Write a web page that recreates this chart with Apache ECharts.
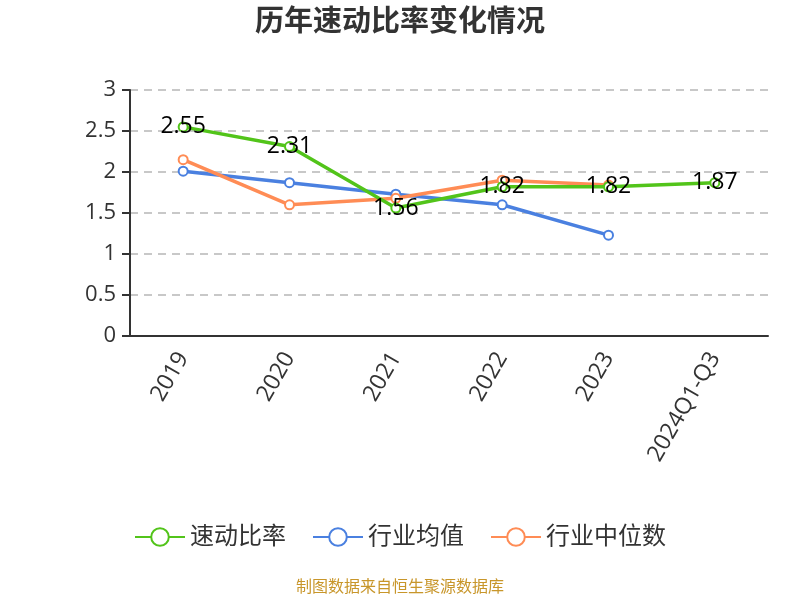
<!DOCTYPE html>
<html><head><meta charset="utf-8">
<script src="https://cdn.jsdelivr.net/npm/echarts@6/dist/echarts.min.js"></script>
<style>html,body{margin:0;padding:0;background:#fff}#c{width:800px;height:600px}</style>
</head><body><div id="c"></div>
<script>
const categories = ['2019','2020','2021','2022','2023','2024Q1-Q3'];
const quickRatio = [2.55, 2.31, 1.56, 1.82, 1.82, 1.87];
const industryMean = [2.01, 1.87, 1.73, 1.60, 1.23];
const industryMedian = [2.15, 1.60, 1.68, 1.90, 1.84];
const yTicks = [0, 0.5, 1, 1.5, 2, 2.5, 3];

const font = '"Open Sans","Noto Sans CJK SC",sans-serif';
const chart = echarts.init(document.getElementById('c'));
chart.setOption({
  animation: false,
  textStyle: {fontFamily: font},
  title: {text: '历年速动比率变化情况', left: 'center', top: 3,
    textStyle: {fontSize: 29, fontWeight: 'bold', color: '#333', fontFamily: font}},
  grid: {left: 130, right: 32, top: 90, bottom: 264},
  legend: {bottom: 46, itemWidth: 50, itemHeight: 22, itemGap: 26,
    textStyle: {fontSize: 24, color: '#333'},
    data: ['速动比率','行业均值','行业中位数']},
  graphic: [{type: 'text', left: 'center', top: 579,
    style: {text: '制图数据来自恒生聚源数据库', fill: '#c8962a', fontSize: 16, fontFamily: font}}],
  xAxis: {type: 'category', data: categories,
    axisLine: {lineStyle: {color: '#333', width: 2}},
    axisTick: {length: 8, lineStyle: {color: '#333', width: 2}},
    axisLabel: {rotate: 60, fontSize: 23, color: '#333', margin: 18}},
  yAxis: {type: 'value', min: yTicks[0], max: yTicks[yTicks.length-1], interval: 0.5,
    axisLine: {show: true, lineStyle: {color: '#333', width: 2}},
    axisTick: {show: true, length: 8, lineStyle: {color: '#333', width: 2}},
    axisLabel: {fontSize: 22, color: '#333', margin: 14},
    splitLine: {lineStyle: {type: [8, 6], color: '#c8c8c8', width: 2}}},
  series: [
    {name: '速动比率', type: 'line', data: quickRatio, color: '#52c41a',
      symbol: 'emptyCircle', symbolSize: 9, lineStyle: {width: 3.5}, z: 3,
      label: {show: true, position: 'inside', fontSize: 23, color: '#000',
        formatter: p => p.value.toFixed(2)}},
    {name: '行业均值', type: 'line', data: industryMean, color: '#4a80e0',
      symbol: 'emptyCircle', symbolSize: 9, lineStyle: {width: 3.5}, z: 2},
    {name: '行业中位数', type: 'line', data: industryMedian, color: '#ff8c55',
      symbol: 'emptyCircle', symbolSize: 9, lineStyle: {width: 3.5}, z: 2}
  ]
});
</script></body></html>
